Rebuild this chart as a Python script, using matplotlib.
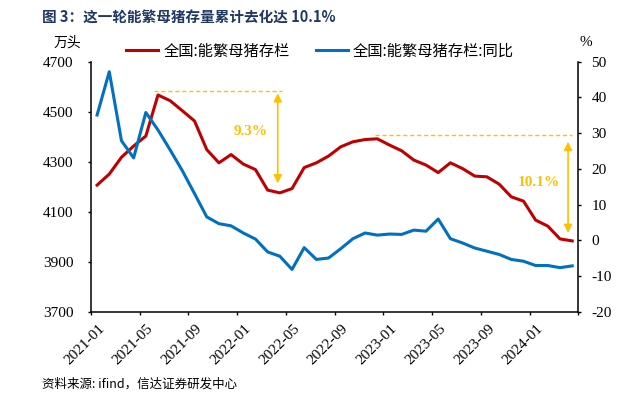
import matplotlib
matplotlib.use('Agg')
import matplotlib.pyplot as plt
import matplotlib.transforms as mtransforms
from matplotlib.font_manager import FontProperties
import numpy as np

plt.rcParams['font.family'] = ['Liberation Serif', 'Noto Sans CJK SC', 'DejaVu Sans']
plt.rcParams['axes.unicode_minus'] = False

# ---------------- data ----------------
tick_labels = ['2021-01', '2021-05', '2021-09', '2022-01', '2022-05', '2022-09',
               '2023-01', '2023-05', '2023-09', '2024-01']

# 全国:能繁母猪存栏 (万头), monthly 2021-01 .. 2024-04
sows = [4207, 4251, 4318, 4363, 4403, 4567, 4544, 4504, 4463, 4349, 4296, 4329,
        4291, 4269, 4187, 4176, 4193, 4277, 4296, 4323, 4360, 4380, 4389, 4392,
        4367, 4344, 4307, 4287, 4257, 4296, 4273, 4243, 4240, 4211, 4160, 4143,
        4067, 4043, 3992, 3984]

# 全国:能繁母猪存栏:同比 (%)
sows_yoy = [35.1, 47.2, 27.9, 23.1, 35.8, 30.9, 25.3, 19.5, 13.1, 6.6, 4.7, 4.1,
            2.1, 0.4, -3.2, -4.4, -8.1, -2.0, -5.3, -4.9, -2.3, 0.5, 2.1, 1.5,
            1.8, 1.7, 2.9, 2.6, 6.0, 0.5, -0.7, -2.1, -3.0, -3.9, -5.3, -5.8,
            -7.0, -7.0, -7.6, -7.1]

# annotation: peak levels, trough levels and labels
ann_labels = ['9.3%', '10.1%']
ann_peak = [4581, 4407]
ann_dash_start = [5.2, 23.3]
ann_dash_end = [15.7, 39.45]
ann_arrow_x = [15.33, 39.16]
ann_arrow_top = [4574, 4380]
ann_arrow_bottom = [4214, 4016]
ann_text_x = [13.13, 36.75]
ann_text_y = [4420, 4216]

RED = '#C00000'
BLUE = '#0070C0'
GOLD = '#FFC000'
CJK = ['Noto Sans CJK SC', 'DejaVu Sans']

W, H = 634, 396
fig = plt.figure(figsize=(W / 100, H / 100), dpi=100)
ax = fig.add_axes([91 / W, 1 - 312 / H, (578.3 - 91) / W, (312 - 61.7) / H])
ax2 = ax.twinx()

x = np.arange(len(sows)) + 0.5
l1, = ax.plot(x, sows, color=RED, lw=2.2, solid_joinstyle='round')
l2, = ax2.plot(x, sows_yoy, color=BLUE, lw=2.2, solid_joinstyle='round')

ax.set_xlim(0, len(sows))
ax.set_ylim(3700, 4700)
ax2.set_ylim(-20, 50)
ax.set_yticks(np.arange(3700, 4701, 200))
ax2.set_yticks(np.arange(-20, 51, 10))
ax.set_xticks(np.arange(0, len(sows) + 1, 4))
ax.set_xticklabels(tick_labels + [''])

for a in (ax, ax2):
    a.spines['top'].set_visible(False)
    for s in a.spines.values():
        s.set_linewidth(1.1)
ax.spines['right'].set_visible(False)
ax2.spines['left'].set_visible(False)
ax2.spines['bottom'].set_visible(False)

ax.tick_params(axis='y', direction='out', length=2.5, width=1, pad=10, labelsize=11)
ax.tick_params(axis='x', direction='out', length=2.5, width=1, pad=5, labelsize=11)
ax2.tick_params(axis='y', direction='out', length=2.5, width=1, pad=7, labelsize=11)

offset = mtransforms.ScaledTranslation(7 / 100, 0, fig.dpi_scale_trans)
for lbl in ax.get_xticklabels():
    lbl.set_rotation(45)
    lbl.set_ha('right')
    lbl.set_va('top')
    lbl.set_rotation_mode('anchor')
    lbl.set_transform(lbl.get_transform() + offset)

# annotations
for i in range(len(ann_labels)):
    ax.plot([ann_dash_start[i], ann_dash_end[i]], [ann_peak[i], ann_peak[i]],
            color=GOLD, lw=1.0, ls=(0, (3, 2)))
    ax.annotate('', xy=(ann_arrow_x[i], ann_arrow_bottom[i]),
                xytext=(ann_arrow_x[i], ann_arrow_top[i]),
                arrowprops=dict(arrowstyle='<|-|>', color=GOLD, lw=1.2,
                                mutation_scale=12, shrinkA=0, shrinkB=0))
    ax.text(ann_text_x[i], ann_text_y[i], ann_labels[i], color=GOLD,
            fontweight='bold', fontsize=11, family='Liberation Serif',
            ha='center', va='center')

# legend
fig.legend([l1, l2], ['全国:能繁母猪存栏', '全国:能繁母猪存栏:同比'],
           loc='center left', bbox_to_anchor=(126 / W, 1 - 51 / H), ncol=2,
           frameon=False, borderpad=0, borderaxespad=0, handlelength=2.1,
           handletextpad=0.35, columnspacing=1.7,
           prop=FontProperties(family=CJK, size=11))

fig.text(42 / W, 1 - 18 / H, '图 3：这一轮能繁母猪存量累计去化达 10.1%', fontsize=10.5,
         fontweight='bold', color='#1F3864', family=CJK, ha='left', va='center')
fig.text(67.5 / W, 1 - 42.7 / H, '万头', fontsize=10, family=CJK, ha='center', va='center')
fig.text(586 / W, 1 - 42.7 / H, '%', fontsize=11, family='Liberation Serif',
         ha='center', va='center')
fig.text(42 / W, 1 - 384 / H, '资料来源: ifind，信达证券研发中心', fontsize=9,
         family=CJK, ha='left', va='center')

fig.savefig('out.png', dpi=100)
